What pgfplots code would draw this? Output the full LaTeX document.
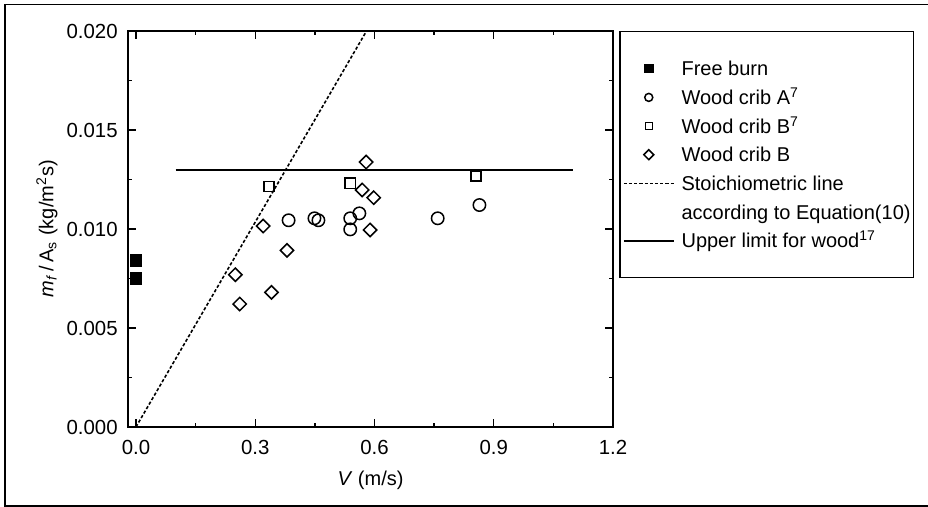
\documentclass[border=0pt]{standalone}
\usepackage{fontspec}
\setmainfont{Liberation Sans}
\usepackage{pgfplots}
\pgfplotsset{compat=1.18}
\begin{document}
\begin{tikzpicture}
\begin{axis}[
  at={(64pt,40pt)}, anchor=south west,
  width=242.5pt, height=198pt, scale only axis,
  xmin=-0.02, xmax=1.2, ymin=0, ymax=0.02,
  xtick={0,0.3,0.6,0.9,1.2},
  minor xtick={0.15,0.45,0.75,1.05},
  ytick={0,0.005,0.01,0.015,0.02},
  minor ytick={0.0025,0.0075,0.0125,0.0175},
  scaled y ticks=false, scaled x ticks=false,
  tick align=inside,
  major tick length=4pt, minor tick length=2pt,
  axis line style={line width=0.75pt},
  tick style={line width=0.7pt, black},
  /pgf/number format/assume math mode=true,
  tick label style={font=\fontsize{10.2}{12}\selectfont},
  xticklabel style={/pgf/number format/fixed, /pgf/number format/fixed zerofill, /pgf/number format/precision=1, inner ysep=6.2pt},
  yticklabel style={/pgf/number format/fixed, /pgf/number format/fixed zerofill, /pgf/number format/precision=3, inner xsep=5pt},
  xlabel={\textit{V} (m/s)},
  ylabel={\textit{m}\textsubscript{\textit{f}}\,/\,A\textsubscript{s} (kg/m\textsuperscript{2}s)},
  label style={font=\fontsize{10.2}{12}\selectfont},
  every axis x label/.style={at={(axis description cs:0.5,-0.134)}, anchor=center},
  every axis y label/.style={at={(axis description cs:-0.167,0.5)}, rotate=90, anchor=center},
  legend cell align=left,
  legend image code/.code={\draw[mark repeat=2,mark phase=2,#1] plot coordinates {(0pt,0pt) (12.5pt,0pt) (25pt,0pt)};},
  legend style={at={(1.0124,1)}, anchor=north west, draw=black, line width=0.75pt,
    inner xsep=1.5pt, inner ysep=13.5pt, row sep=4.33pt,
    font=\fontsize{10}{12}\selectfont,
    nodes={inner sep=0pt, text height=8.6pt, text depth=1.4pt},
    /tikz/every odd column/.append style={column sep=3.4pt}},
]
\addplot[only marks, mark=square*, mark size=2.8pt, mark options={solid, fill=black, draw=black, line width=0.75pt},
  legend image post style={mark size=2pt}]
  coordinates {(0,0.0084) (0,0.0075)};
\addlegendentry{Free burn}
\addplot[only marks, mark=o, mark size=3.1pt, mark options={solid, draw=black, line width=0.75pt},
  legend image post style={mark size=2pt}]
  coordinates {(0.384,0.01044) (0.449,0.01054) (0.459,0.01044) (0.539,0.01054) (0.539,0.00998) (0.562,0.01079) (0.759,0.01054) (0.864,0.01121)};
\addlegendentry{Wood crib A\textsuperscript{7}}
\addplot[only marks, mark=square, mark size=2.55pt, mark options={solid, draw=black, line width=0.75pt},
  legend image post style={mark size=1.75pt}]
  coordinates {(0.335,0.01214) (0.539,0.01231) (0.855,0.01268)};
\addlegendentry{Wood crib B\textsuperscript{7}}
\addplot[only marks, mark=square, mark size=2.35pt, mark options={solid, rotate=45, draw=black, line width=0.75pt},
  legend image post style={mark size=1.75pt}]
  coordinates {(0.250,0.00769) (0.261,0.00621) (0.320,0.01015) (0.341,0.00680) (0.380,0.00892) (0.569,0.01197) (0.579,0.01338) (0.589,0.00995) (0.598,0.01158)};
\addlegendentry{Wood crib B}
\addplot[black, line width=0.8pt, dash pattern=on 1.6pt off 1pt, no marks]
  coordinates {(0,0) (0.58,0.02)};
\addlegendentry{Stoichiometric line}
\addlegendimage{empty legend}
\addlegendentry{according to Equation(10)}
\addplot[black, line width=1pt, no marks]
  coordinates {(0.1,0.013) (1.1,0.013)};
\addlegendentry{Upper limit for wood\textsuperscript{17}}
\end{axis}
\draw[line width=0.8pt, black] (466pt,251.25pt) -- (2.5pt,251.25pt) -- (2.5pt,0.5pt) -- (466pt,0.5pt);
\pgfresetboundingbox
\useasboundingbox (0,0) rectangle (464pt,253.5pt);
\end{tikzpicture}
\end{document}
